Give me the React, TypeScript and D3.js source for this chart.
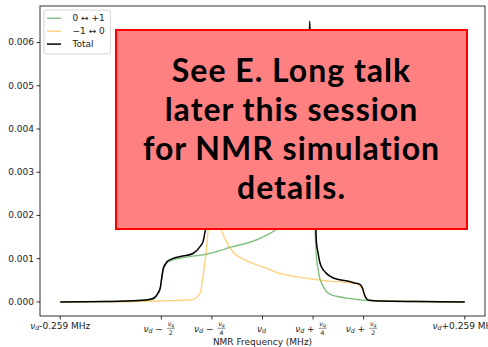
import { useMemo } from "react";
import * as d3 from "d3";

// frequency offset from nu_d (MHz)
const freq = [
  -0.259, -0.2, -0.16, -0.144, -0.1376, -0.134, -0.131, -0.1287, -0.127, -0.1223,
  -0.118, -0.114, -0.102, -0.089, -0.08, -0.076, -0.0735, -0.0716, -0.07, -0.0686,
  -0.066, -0.063, -0.062, -0.0595, -0.058, -0.0546, -0.05, -0.046, -0.038, -0.016,
  0.005, 0.018, 0.0285, 0.041, 0.05, 0.055, 0.058, 0.0604, 0.063, 0.0655,
  0.068, 0.069, 0.071, 0.0732, 0.0753, 0.0818, 0.09, 0.0945, 0.1116, 0.12,
  0.1243, 0.128, 0.1307, 0.134, 0.137, 0.15, 0.2, 0.259,
];

// 0 <-> +1
const greenVals = [
  0, 0.00001, 0.00002, 0.00004, 0.00009, 0.00018, 0.0003, 0.00057, 0.00075, 0.0009,
  0.00095, 0.00098, 0.00102, 0.00106, 0.00108, 0.00109, 0.0011, 0.00111, 0.00111, 0.00112,
  0.00113, 0.00114, 0.00115, 0.00116, 0.00117, 0.00119, 0.00121, 0.00124, 0.00128, 0.00138,
  0.00154, 0.00168, 0.00186, 0.00222, 0.0027, 0.0033, 0.004, 0.0058, 0.0045, 0.0026,
  0.0014, 0.00105, 0.00078, 0.00055, 0.00045, 0.00024, 0.00015, 0.00013, 0.00008, 0.00006,
  0.00005, 0.00004, 0.00004, 0.00003, 0.00003, 0.00002, 0.00001, 0,
];

// -1 <-> 0
const orangeVals = [
  0, 0, 0.00001, 0.00002, 0.00002, 0.00002, 0.00002, 0.00003, 0.00003, 0.00003,
  0.00003, 0.00003, 0.00004, 0.00006, 0.0002, 0.0006, 0.00095, 0.00125, 0.0016, 0.0019,
  0.0031, 0.0045, 0.0049, 0.0036, 0.0029, 0.0018, 0.00155, 0.00139, 0.00116, 0.00092,
  0.00078, 0.00068, 0.00063, 0.00059, 0.00056, 0.00055, 0.00055, 0.00054, 0.00053, 0.00053,
  0.00052, 0.00052, 0.00051, 0.00051, 0.0005, 0.00049, 0.00047, 0.00047, 0.00044, 0.00042,
  0.00038, 0.00028, 0.00014, 0.00005, 0.00003, 0.00002, 0.00001, 0,
];

const totalVals = [
  0, 0.00001, 0.00003, 0.00006, 0.00011, 0.0002, 0.00032, 0.0006, 0.00078, 0.00093,
  0.00098, 0.00101, 0.00106, 0.00112, 0.00128, 0.0014, 0.00163, 0.0018, 0.0024, 0.0031,
  0.0043, 0.0057, 0.0061, 0.0048, 0.0041, 0.003, 0.00276, 0.00263, 0.00244, 0.0023,
  0.00232, 0.00236, 0.00249, 0.00281, 0.0033, 0.0039, 0.0046, 0.0065, 0.0051, 0.0032,
  0.0019, 0.0014, 0.00115, 0.00093, 0.00082, 0.00066, 0.00056, 0.00053, 0.00047, 0.00043,
  0.00041, 0.00032, 0.00016, 0.00006, 0.00004, 0.00002, 0.00001, 0,
];

const yTicks = [0, 0.001, 0.002, 0.003, 0.004, 0.005, 0.006];
const xTicks = [-0.259, -0.1295, -0.06475, 0, 0.06475, 0.1295, 0.259];
const xTickOps = ["-0.259 MHz", "\u2212", "\u2212", "", "+", "+", "+0.259 MHz"];
const xTickDenoms = ["", "2", "4", "", "4", "2", ""];

const series = [
  { label: "0 \u2194 +1", values: greenVals, color: "#008000", opacity: 0.5, width: 1.4 },
  { label: "\u22121 \u2194 0", values: orangeVals, color: "#ffa500", opacity: 0.5, width: 1.4 },
  { label: "Total", values: totalVals, color: "#000000", opacity: 1, width: 1.5 },
];

const noteLines = [
  "See E. Long talk",
  "later this session",
  "for NMR simulation",
  "details.",
];

const W = 488;
const H = 347;
const m = { left: 40, right: 485, top: 6, bottom: 316 };
const font = "DejaVu Sans, sans-serif";

export default function App() {
  const x = useMemo(
    () => d3.scaleLinear().domain([-0.2849, 0.2849]).range([m.left, m.right]),
    []
  );
  const y = useMemo(
    () => d3.scaleLinear().domain([-0.000326, 0.006846]).range([m.bottom, m.top]),
    []
  );

  const line = d3
    .line<number>()
    .x((_, i) => x(freq[i]))
    .y((d) => y(d))
    .curve(d3.curveMonotoneX);

  return (
    <svg
      width={W}
      height={H}
      style={{ position: "absolute", left: 0, top: 0, background: "#fff" }}
      fontFamily={font}
    >
      <rect x={0} y={0} width={W} height={H} fill="#fff" />
      <defs>
        <clipPath id="plot">
          <rect x={m.left} y={m.top} width={m.right - m.left} height={m.bottom - m.top} />
        </clipPath>
      </defs>

      <g clipPath="url(#plot)">
        {series.map((s) => (
          <path
            key={s.label}
            d={line(s.values) || ""}
            fill="none"
            stroke={s.color}
            strokeOpacity={s.opacity}
            strokeWidth={s.width}
            strokeLinejoin="round"
          />
        ))}
      </g>

      {/* spines */}
      <rect
        x={m.left}
        y={m.top}
        width={m.right - m.left}
        height={m.bottom - m.top}
        fill="none"
        stroke="#000"
        strokeWidth={0.8}
      />

      {/* y axis */}
      {yTicks.map((t) => (
        <g key={t} transform={`translate(0,${y(t)})`}>
          <line x1={m.left - 3.5} x2={m.left} stroke="#000" strokeWidth={0.8} />
          <text x={m.left - 6} dy="0.32em" textAnchor="end" fontSize={9} fill="#222">
            {t.toFixed(3)}
          </text>
        </g>
      ))}

      {/* x axis */}
      {xTicks.map((t, i) => {
        const cx = x(t);
        const op = xTickOps[i];
        const den = xTickDenoms[i];
        return (
          <g key={t}>
            <line x1={cx} x2={cx} y1={m.bottom} y2={m.bottom + 3.5} stroke="#000" strokeWidth={0.8} />
            {den === "" && op.length > 1 && (
              <text x={cx} y={328.5} textAnchor="middle" fontSize={9} fill="#222">
                <tspan fontStyle="italic">ν</tspan>
                <tspan fontStyle="italic" fontSize={6.3} dy={1.8}>d</tspan>
                <tspan dy={-1.8}>{op}</tspan>
              </text>
            )}
            {den === "" && op === "" && (
              <text x={cx - 1} y={331.5} textAnchor="middle" fontSize={9} fill="#222">
                <tspan fontStyle="italic">ν</tspan>
                <tspan fontStyle="italic" fontSize={6.3} dy={1.8}>d</tspan>
              </text>
            )}
            {den !== "" && (
              <g fill="#222">
                <text x={cx + 1.5} y={331.5} textAnchor="end" fontSize={9}>
                  <tspan fontStyle="italic">ν</tspan>
                  <tspan fontStyle="italic" fontSize={6.3} dy={1.8}>d</tspan>
                  <tspan dy={-1.8}>{" " + op}</tspan>
                </text>
                <text x={cx + 9.5} y={326.2} textAnchor="middle" fontSize={6.3}>
                  <tspan fontStyle="italic">ν</tspan>
                  <tspan fontStyle="italic" fontSize={4.5} dy={1.2}>q</tspan>
                </text>
                <line x1={cx + 5.5} x2={cx + 13.5} y1={328.3} y2={328.3} stroke="#222" strokeWidth={0.5} />
                <text x={cx + 9.5} y={334.8} textAnchor="middle" fontSize={6.3}>
                  {den}
                </text>
              </g>
            )}
          </g>
        );
      })}
      <text x={(m.left + m.right) / 2} y={345} textAnchor="middle" fontSize={9} fill="#222">
        NMR Frequency (MHz)
      </text>

      {/* legend */}
      <g>
        <rect x={44} y={10} width={66.5} height={44} rx={2.5} fill="#fff" fillOpacity={0.8} stroke="#ccc" strokeWidth={0.8} />
        {series.map((s, i) => {
          const ly = 18.3 + i * 12.9;
          return (
            <g key={s.label}>
              <line x1={47} x2={61} y1={ly} y2={ly} stroke={s.color} strokeOpacity={s.opacity} strokeWidth={s.width} />
              <text x={72.5} y={ly} dy="0.34em" fontSize={9} fill="#222">
                {s.label}
              </text>
            </g>
          );
        })}
      </g>

      {/* overlay note */}
      <rect x={116} y={30} width={351} height={199} fill="#ff8080" stroke="#ff0000" strokeWidth={2} />
      {noteLines.map((t, i) => (
        <text
          key={t}
          x={291.5}
          y={82 + i * 39}
          textAnchor="middle"
          fontSize={32}
          fontWeight="bold"
          letterSpacing={1}
          fontFamily="Lato, sans-serif"
          fill="#000"
        >
          {t}
        </text>
      ))}
    </svg>
  );
}
